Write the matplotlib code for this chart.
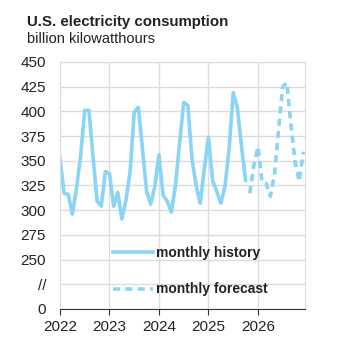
import matplotlib.pyplot as plt
import numpy as np

plt.rcParams['font.family'] = ['Liberation Sans', 'DejaVu Sans']

# monthly values, billion kWh
history = [352, 317, 316, 296, 322, 355, 401, 401, 355, 309, 304, 339,   # 2022
           337, 304, 318, 291, 310, 339, 399, 404, 362, 319, 306, 324,   # 2023
           356, 315, 309, 298, 325, 368, 409, 406, 352, 325, 307, 342,   # 2024
           374, 330, 319, 307, 324, 362, 419, 404, 365, 330]             # 2025 Jan-Oct
forecast = [317, 345,                                                    # 2025 Nov-Dec
            364, 328, 327, 314, 336, 382, 425, 429, 386, 349, 329, 359]  # 2026

years = [2022, 2023, 2024, 2025, 2026]
y_ticks = [0, 250, 275, 300, 325, 350, 375, 400, 425, 450]

# broken axis: 0 sits two rows below 250, "//" in between
def to_axis(v):
    return np.where(np.asarray(v) >= 250, v, 200 + np.asarray(v))

t_hist = 2022 + np.arange(len(history)) / 12
t_fc = 2022 + (len(history) + np.arange(len(forecast))) / 12

color = "#8ad4f5"
fig = plt.figure(figsize=(3.37, 3.44), dpi=100)
ax = fig.add_axes([0.178, 0.102, 0.727, 0.718])

ax.plot(t_hist, to_axis(history), color=color, lw=2.6, label="monthly history")
ax.plot(t_fc, to_axis(forecast), color=color, lw=2.6, ls=(0, (2.0, 1.4)),
        label="monthly forecast")

ax.set_xlim(2022, 2026.95)
ax.set_ylim(200, 450)
ax.set_xticks(years)
ax.set_xticklabels([str(y) for y in years], fontsize=11)
yt = list(to_axis(y_ticks)) + [225]
yl = [str(v) for v in y_ticks] + ["//"]
ax.set_yticks(yt)
ax.set_yticklabels(yl, fontsize=11)

ax.grid(True, color="#dcdcdc", lw=1)
ax.set_axisbelow(True)
for s in ["left", "top", "right"]:
    ax.spines[s].set_color("#dcdcdc")
ax.spines["bottom"].set_color("#333333")
ax.tick_params(axis="y", length=0, pad=10, colors="#222222")
ax.tick_params(axis="x", length=4, direction="out", pad=4, colors="#222222",
               color="#333333")

leg = ax.legend(loc="lower left", bbox_to_anchor=(0.165, 0.0), frameon=False,
                handlelength=2.9, handletextpad=0.2, labelspacing=1.6,
                prop={"weight": "bold", "size": 10})
for txt in leg.get_texts():
    txt.set_color("#222222")

fig.text(0.08, 0.936, "U.S. electricity consumption", fontsize=10.8,
         fontweight="bold", va="center", color="#222222")
fig.text(0.08, 0.887, "billion kilowatthours", fontsize=10.5, va="center",
         color="#222222")

fig.savefig("out.png", dpi=100)
